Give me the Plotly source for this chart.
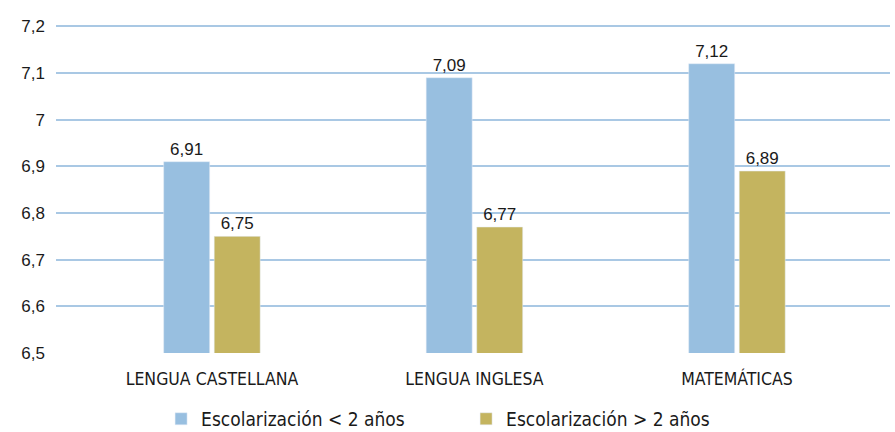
import plotly.graph_objects as go

categorias = ["LENGUA CASTELLANA", "LENGUA INGLESA", "MATEMÁTICAS"]
menos_2 = [6.91, 7.09, 7.12]
mas_2 = [6.75, 6.77, 6.89]
series = ["Escolarización < 2 años", "Escolarización > 2 años"]

azul = "#98bfe0"
oliva = "#c4b45f"
condensada = "DejaVu Sans Condensed, Liberation Sans"

fig = go.Figure()
for nombre, vals, col in [(series[0], menos_2, azul), (series[1], mas_2, oliva)]:
    fig.add_trace(go.Bar(
        x=categorias, y=vals, name=nombre, marker_color=col,
        texttemplate="%{y:.2f}", textposition="outside",
        textfont=dict(family="Liberation Sans", size=17, color="#1a1a1a"),
        cliponaxis=False,
    ))

fig.update_layout(
    width=895, height=432,
    margin=dict(l=56, r=5, t=25, b=79, autoexpand=False),
    paper_bgcolor="white", plot_bgcolor="white",
    separators=",.",
    barmode="group", bargap=0.615, bargroupgap=0.09,
    font=dict(family="Liberation Sans", color="#1a1a1a"),
    legend=dict(orientation="h", x=0.126, xanchor="left", y=-0.201, yanchor="middle",
                font=dict(family=condensada, size=19),
                entrywidth=260, entrywidthmode="pixels"),
)
fig.update_xaxes(range=[-0.594, 2.583], showgrid=False, showline=False, ticks="",
                 automargin=False, ticklabelstandoff=13,
                 tickfont=dict(family=condensada, size=17.5, color="#1a1a1a"))
fig.update_yaxes(range=[6.5, 7.203], dtick=0.1, tick0=6.5, showgrid=True,
                 gridcolor="#a9c8e4", gridwidth=2, zeroline=False, showline=False,
                 automargin=False,
                 tickfont=dict(family="Liberation Sans", size=17, color="#1a1a1a"),
                 ticklabelstandoff=10)

# page body has a default 8px margin; drop it so the chart sits at 0,0
fig.write_html("out.html", config={"displayModeBar": False},
               post_script="document.body.style.margin='0px';")
